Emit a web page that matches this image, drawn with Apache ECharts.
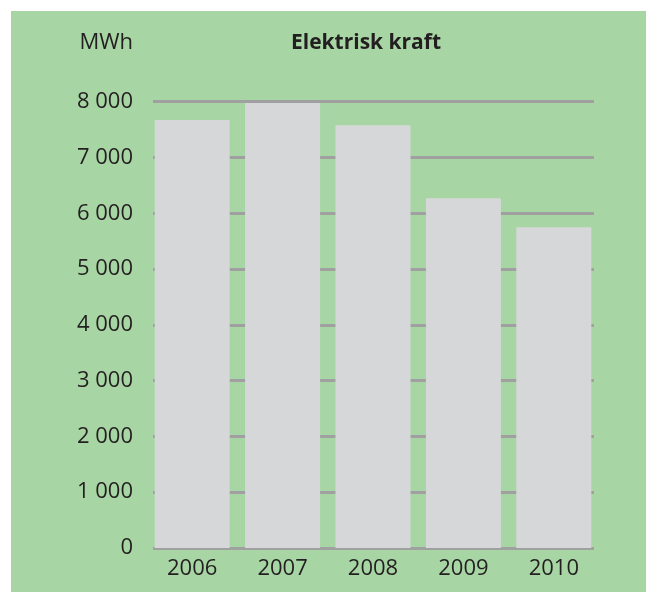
<!DOCTYPE html>
<html>
<head>
<meta charset="utf-8">
<script src="https://cdn.jsdelivr.net/npm/echarts@6/dist/echarts.min.js"></script>
<style>
html,body{margin:0;padding:0;background:#ffffff;}
#chart{position:absolute;left:11px;top:11px;width:635px;height:581px;}
</style>
</head>
<body>
<div id="chart"></div>
<script>
const categories = ['2006', '2007', '2008', '2009', '2010'];
const values = [7670, 7975, 7580, 6270, 5750];
const yTicks = [0, 1000, 2000, 3000, 4000, 5000, 6000, 7000, 8000];
const titleText = 'Elektrisk kraft';
const unitText = 'MWh';

function fmt(v) {
  const s = String(v);
  return s.length > 3 ? s.slice(0, s.length - 3) + ' ' + s.slice(-3) : s;
}

const font = '"Open Sans", "Noto Sans", sans-serif';
const textColor = '#231f20';
const chart = echarts.init(document.getElementById('chart'), null, {renderer: 'canvas'});
chart.setOption({
  backgroundColor: '#a8d5a4',
  animation: false,
  graphic: [
    {type: 'text', x: 355, y: 32, style: {text: titleText, textAlign: 'center', textVerticalAlign: 'middle',
      fontFamily: font, fontWeight: 'bold', fontSize: 21, fill: textColor}},
    {type: 'text', x: 122, y: 32, style: {text: unitText, textAlign: 'right', textVerticalAlign: 'middle',
      fontFamily: font, fontWeight: 'normal', fontSize: 22, fill: textColor}}
  ],
  grid: [
    {left: 136, right: 47, top: 90.7, bottom: 44},
    {left: 142, right: 52, top: 90.7, bottom: 44}
  ],
  xAxis: [
    {type: 'category', gridIndex: 0, data: categories,
     axisLine: {show: false}, axisTick: {show: false},
     axisLabel: {fontFamily: font, fontSize: 22, color: textColor, margin: 10, lineHeight: 22}},
    {type: 'value', gridIndex: 1, show: false, min: 0, max: 1}
  ],
  yAxis: [
    {type: 'value', gridIndex: 0, min: yTicks[0], max: yTicks[yTicks.length - 1], interval: 1000,
     show: false, splitLine: {show: false}},
    {type: 'value', gridIndex: 1, min: yTicks[0], max: yTicks[yTicks.length - 1], interval: 1000,
     axisLine: {show: false}, axisTick: {show: false},
     axisLabel: {fontFamily: font, fontSize: 22, color: textColor, margin: 20, formatter: fmt},
     splitLine: {show: true, lineStyle: {color: '#a0a0a0', width: 3}}}
  ],
  series: [
    {type: 'bar', xAxisIndex: 0, yAxisIndex: 0, data: values, barWidth: 75,
     itemStyle: {color: '#d6d7d9'}, z: 5}
  ]
});
</script>
</body>
</html>
